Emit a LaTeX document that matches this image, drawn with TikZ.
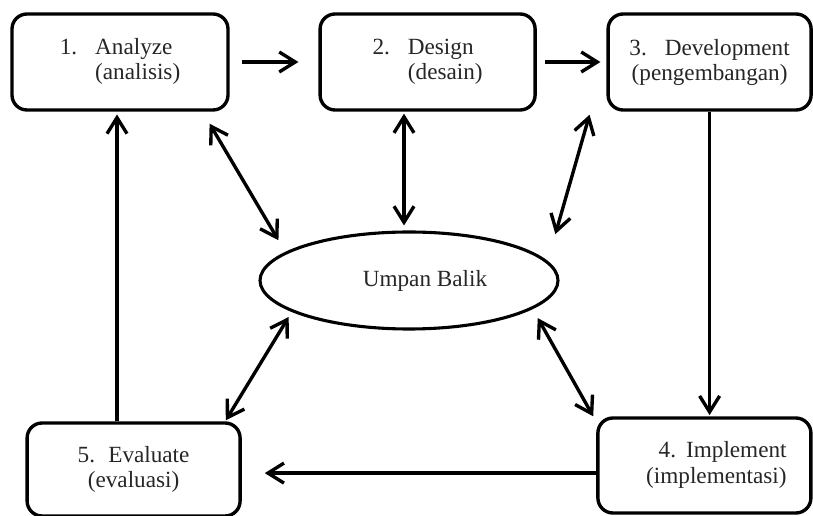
\documentclass[tikz,border=0pt]{standalone}
\usepackage{fontspec}
\setmainfont{Liberation Serif}
\usetikzlibrary{arrows.meta,shapes.geometric}

\tikzset{
	stage/.style={draw, line width=2.4pt, rounded corners=0.375cm, inner sep=0pt, text=black!85,
		font=\fontsize{16.5}{17.8}\selectfont},
	feedback/.style={draw, ellipse, line width=2.2pt, inner sep=0pt, text=black!85,
		minimum width=7.45cm, minimum height=2.425cm, font=\fontsize{16.5}{17.8}\selectfont},
	flow/.style={line width=2.4pt, -{Straight Barb[length=0.4cm,width=0.5cm]}},
	both/.style={line width=2.4pt, {Straight Barb[length=0.4cm,width=0.5cm]}-{Straight Barb[length=0.4cm,width=0.5cm]}},
}

\begin{document}
\begin{tikzpicture}[]
		\useasboundingbox (0,0) rectangle (20.325,12.875);

		\node[stage, minimum width=5.4cm, minimum height=2.4cm] (analyze) at (3,11.325)
			{\begin{tabular}{@{}l@{\hspace{0.45cm}}l@{}}1. & Analyze\\ & (analisis)\end{tabular}};
		\node[stage, minimum width=5.375cm, minimum height=2.4cm] (design) at (10.69,11.325)
			{\begin{tabular}{@{}l@{\hspace{0.45cm}}l@{}}2. & Design\\ & (desain)\end{tabular}};
		\node[stage, minimum width=5.075cm, minimum height=2.4cm, align=center] (develop) at (17.74,11.325)
			{3.\hspace{0.45cm}Development\\(pengembangan)};
		\node[stage, minimum width=5.325cm, minimum height=2.375cm] (implement) at (17.61,1.2375)
			{\hspace*{0.6cm}\begin{tabular}{@{}r@{}}4.\hspace{0.25cm}Implement\\(implementasi)\end{tabular}};
		\node[stage, minimum width=5.325cm, minimum height=2.325cm, align=center] (evaluate) at (3.34,1.1375)
			{5.\hspace{0.33cm}Evaluate\\(evaluasi)};

		\node[feedback] (umpan) at (10.225,5.8625) {\hspace*{0.8cm}Umpan Balik};

		% siklus
		\draw[flow, shorten <=0.3cm, shorten >=0.5cm] (analyze.east) -- (design.west);
		\draw[flow, shorten <=0.2cm, shorten >=0.15cm] (design.east) -- (develop.west);
		\draw[flow, shorten >=0.03cm] (develop.south) -- (develop.south |- implement.north);
		\draw[flow, shorten >=0.575cm] ([yshift=-0.19cm]implement.west) -- ([yshift=-0.19cm]implement.west -| evaluate.east);
		\draw[flow, shorten >=0.07cm] ([xshift=-0.075cm]analyze.south |- evaluate.north) -- ([xshift=-0.075cm]analyze.south);

		% umpan balik
		\draw[both, shorten <=0.35cm, shorten >=0.34cm] ([xshift=-0.68cm]analyze.south east) -- (umpan.167);
		\draw[both, shorten <=0.05cm, shorten >=0.125cm] ([xshift=-0.125cm]umpan.north |- design.south) -- ([xshift=-0.125cm]umpan.north);
		\draw[both, shorten <=0.08cm, shorten >=0.7cm] ([xshift=-0.4cm]develop.south west) -- (umpan.8);
		\draw[both, shorten <=0.03cm, shorten >=0.15cm] ([xshift=-0.415cm]evaluate.north east) -- (umpan.195);
		\draw[both, shorten >=0.26cm] ([xshift=-0.075cm]implement.north west) -- (umpan.347);
	\end{tikzpicture}
\end{document}
